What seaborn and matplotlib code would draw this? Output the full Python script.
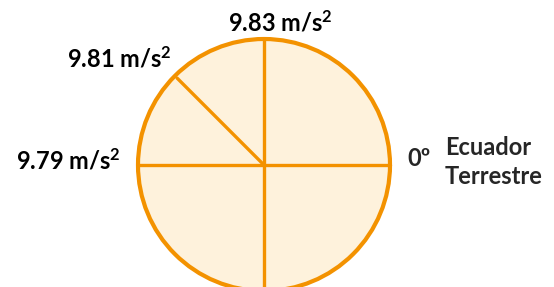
import numpy as np
import pandas as pd
import matplotlib
matplotlib.use("Agg")
import matplotlib.pyplot as plt
from matplotlib.patches import Circle
import seaborn as sns

# Data
spoke_angles = [0, 90, 135, 180, 270]          # degrees from the equator direction
labels = ["9.83 m/s$^{2}$", "9.81 m/s$^{2}$", "9.79 m/s$^{2}$"]
label_angles = [90, 135, 180]
equator_label = "0º"
equator_text = "Ecuador\nTerrestre"

ORANGE = "#F39200"
FILL = "#FEF2DC"

sns.set_style("white")
plt.rcParams["font.family"] = ["Lato", "DejaVu Sans"]
plt.rcParams["mathtext.fontset"] = "custom"
plt.rcParams["mathtext.rm"] = "Lato:bold"
plt.rcParams["mathtext.it"] = "Lato:bold"
plt.rcParams["mathtext.bf"] = "Lato:bold"

fig = plt.figure(figsize=(5.54, 2.87), dpi=100)
ax = fig.add_axes([0, 0, 1, 1])

cx, cy, r = 264, 165, 126
ax.add_patch(Circle((cx, cy), r, facecolor=FILL, edgecolor=ORANGE, lw=3.0, zorder=1))

rows = []
for i, a in enumerate(spoke_angles):
    length = r * (0.975 if a == 135 else 1.0)
    t = np.deg2rad(a)
    rows.append({"x": cx, "y": cy, "spoke": i})
    rows.append({"x": cx + length * np.cos(t), "y": cy - length * np.sin(t), "spoke": i})
df = pd.DataFrame(rows)
sns.lineplot(data=df, x="x", y="y", units="spoke", estimator=None, sort=False,
             color=ORANGE, lw=2.4, ax=ax, zorder=2)
ax.set_xlim(0, 554)
ax.set_ylim(287, 0)
ax.set_aspect("equal")
ax.axis("off")

fs = 17
pos = {90: (280, 23), 135: (119, 59), 180: (68, 161)}
for lab, a in zip(labels, label_angles):
    x, y = pos[a]
    ax.text(x, y, lab, ha="center", va="center", fontsize=fs, fontweight="bold", color="black")
ax.text(419, 159, equator_label, ha="center", va="center", fontsize=fs, fontweight="bold")
ax.text(445, 162, equator_text, ha="left", va="center", fontsize=fs, fontweight="bold",
        linespacing=1.3)

fig.savefig("out.png", dpi=100)
